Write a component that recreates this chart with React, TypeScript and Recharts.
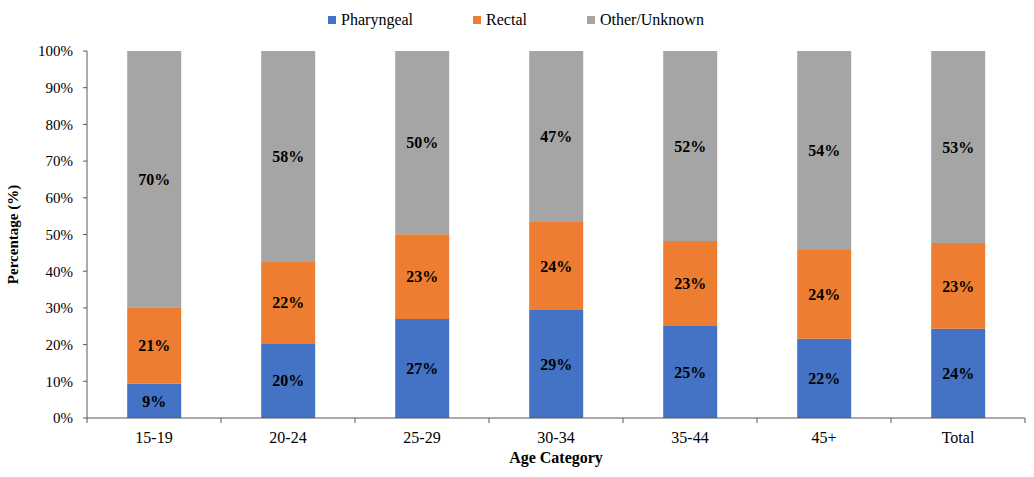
import React from 'react';
import { BarChart, Bar, XAxis, YAxis, LabelList } from 'recharts';

const categories = ['15-19', '20-24', '25-29', '30-34', '35-44', '45+', 'Total'];
const pharyngeal = [9.3, 20.4, 27.0, 29.4, 25.1, 21.6, 24.3];
const rectal = [20.9, 22.1, 23.1, 24.0, 23.1, 24.2, 23.4];
const other = [69.8, 57.5, 49.9, 46.6, 51.8, 54.2, 52.3];
const pharyngealLabels = ['9%', '20%', '27%', '29%', '25%', '22%', '24%'];
const rectalLabels = ['21%', '22%', '23%', '24%', '23%', '24%', '23%'];
const otherLabels = ['70%', '58%', '50%', '47%', '52%', '54%', '53%'];
const yTicks = [0, 10, 20, 30, 40, 50, 60, 70, 80, 90, 100];

const series = [
  { key: 'pharyngeal', name: 'Pharyngeal', color: '#4472C4' },
  { key: 'rectal', name: 'Rectal', color: '#ED7D31' },
  { key: 'other', name: 'Other/Unknown', color: '#A5A5A5' },
];

const data = categories.map((c, i) => ({
  category: c,
  pharyngeal: pharyngeal[i],
  rectal: rectal[i],
  other: other[i],
  pharyngealLabel: pharyngealLabels[i],
  rectalLabel: rectalLabels[i],
  otherLabel: otherLabels[i],
}));

const FONT = '"Liberation Serif", "Times New Roman", serif';
const AXIS = '#595959';
const W = 1034;
const H = 477;
const X_H = 59;
const M = { top: 51, right: 9, bottom: 0, left: 0 };
const Y_W = 87;
const BAND = (W - M.right - Y_W) / categories.length;

const XTick = (props: any) => {
  const { x, y, payload, index } = props;
  const last = index === categories.length - 1;
  return (
    <g>
      <line x1={x - BAND / 2} x2={x - BAND / 2} y1={y - 8} y2={y - 3} stroke={AXIS} strokeWidth={1} />
      {last && <line x1={x + BAND / 2} x2={x + BAND / 2} y1={y - 8} y2={y - 3} stroke={AXIS} strokeWidth={1} />}
      <text x={x} y={y + 17} textAnchor="middle" fontFamily={FONT} fontSize={16} fill="#000">
        {payload.value}
      </text>
    </g>
  );
};

const LegendBox = () => (
  <div
    style={{
      position: 'absolute',
      left: 0,
      top: 10,
      width: W,
      display: 'flex',
      justifyContent: 'center',
      fontFamily: FONT,
      fontSize: 16,
      lineHeight: '20px',
      color: '#000',
      paddingRight: 2,
      boxSizing: 'border-box',
    }}
  >
    {series.map((s) => (
      <div key={s.key} style={{ display: 'flex', alignItems: 'center', margin: '0 30px' }}>
        <span style={{ width: 8, height: 8, background: s.color, display: 'inline-block', marginRight: 5 }} />
        <span>{s.name}</span>
      </div>
    ))}
  </div>
);

export default function App() {
  return (
    <div style={{ position: 'absolute', left: 0, top: 0, width: W, height: H, background: '#fff' }}>
      <BarChart width={W} height={H} data={data} margin={M} barCategoryGap="30%">
        <XAxis
          dataKey="category"
          tickLine={false}
          axisLine={{ stroke: AXIS, strokeWidth: 1 }}
          tick={<XTick />}
          height={X_H}
          interval={0}
          label={{ value: 'Age Category', position: 'insideBottom', offset: 14, style: { fontFamily: FONT, fontSize: 16, fontWeight: 'bold', fill: '#000' } }}
        />
        <YAxis
          width={Y_W}
          domain={[0, 100]}
          ticks={yTicks}
          interval={0}
          tickFormatter={(v: number) => `${v}%`}
          tick={{ fontFamily: FONT, fontSize: 15, fill: '#000' }}
          tickLine={{ stroke: AXIS }}
          tickSize={4}
          tickMargin={10}
          axisLine={{ stroke: AXIS, strokeWidth: 1 }}
          label={{ value: 'Percentage (%)', angle: -90, position: 'insideLeft', offset: 13, style: { fontFamily: FONT, fontSize: 15, fontWeight: 'bold', fill: '#000', textAnchor: 'middle' } }}
        />
        {series.map((s) => (
          <Bar key={s.key} dataKey={s.key} name={s.name} stackId="a" fill={s.color} isAnimationActive={false}>
            <LabelList
              dataKey={`${s.key}Label`}
              position="center"
              style={{ fontFamily: FONT, fontSize: 16, fontWeight: 'bold', fill: '#000' }}
            />
          </Bar>
        ))}
      </BarChart>
      <LegendBox />
    </div>
  );
}
